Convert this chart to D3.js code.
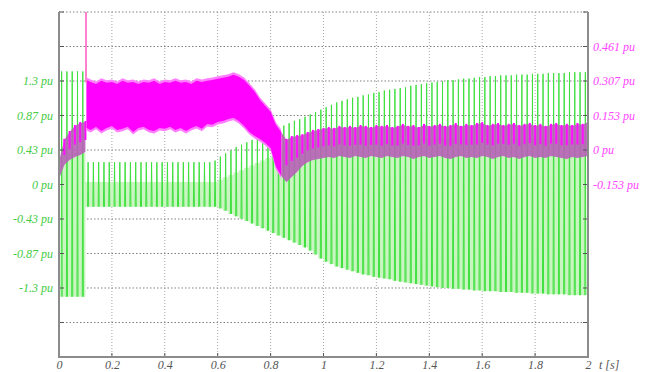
<!DOCTYPE html>
<html>
<head>
<meta charset="utf-8">
<script src="https://cdn.jsdelivr.net/npm/d3@7"></script>
<style>
  body { margin: 0; background: #fff; }
</style>
</head>
<body>
<div id="chart"></div>
<script>
// ---- data ----
// green signal, one stroke per 50 Hz cycle (left axis, pu)
var greenHi = [1.42,1.42,1.42,1.42,1.42,
  0.28,0.28,0.28,0.28,0.28,0.28,0.28,0.28,0.28,0.28,0.28,0.28,0.28,0.28,0.28,0.28,0.28,0.28,0.28,0.28,0.28,0.28,0.28,0.28,
  0.30,0.35,0.39,0.43,0.47,0.50,0.53,0.56,0.59,0.62,
  0.65,0.68,0.71,0.74,0.77,0.80,0.82,0.85,0.88,0.91,
  0.94,0.97,1.00,1.03,1.05,1.07,1.09,1.10,1.12,1.13,
  1.15,1.16,1.18,1.19,1.20,1.21,1.22,1.24,1.25,1.26,
  1.27,1.28,1.29,1.30,1.31,1.31,1.32,1.33,1.33,1.34,
  1.35,1.35,1.36,1.36,1.37,1.37,1.37,1.38,1.38,1.38,
  1.39,1.39,1.39,1.40,1.40,1.40,1.40,1.41,1.41,1.41,
  1.41];
var greenLo = [-1.41,-1.41,-1.41,-1.41,-1.41,
  -0.28,-0.28,-0.28,-0.28,-0.28,-0.28,-0.28,-0.28,-0.28,-0.28,-0.28,-0.28,-0.28,-0.28,-0.28,-0.28,-0.28,-0.28,-0.28,-0.28,-0.28,-0.28,-0.28,-0.28,-0.28,
  -0.30,-0.33,-0.37,-0.40,-0.43,-0.46,-0.49,-0.52,-0.55,-0.58,
  -0.61,-0.64,-0.67,-0.70,-0.73,-0.76,-0.79,-0.83,-0.88,-0.93,
  -0.97,-1.00,-1.03,-1.05,-1.07,-1.09,-1.11,-1.13,-1.14,-1.16,
  -1.17,-1.18,-1.19,-1.21,-1.22,-1.23,-1.24,-1.25,-1.26,-1.27,
  -1.28,-1.29,-1.30,-1.30,-1.31,-1.31,-1.32,-1.32,-1.33,-1.33,
  -1.34,-1.34,-1.34,-1.35,-1.35,-1.35,-1.36,-1.36,-1.36,-1.37,
  -1.37,-1.37,-1.38,-1.38,-1.38,-1.38,-1.39,-1.39,-1.39,-1.39];
// top of the pale green band under the strokes (left axis, pu)
var paleHi = [0.40,0.40,0.40,0.40,0.40,
  0.03,0.03,0.03,0.03,0.03,0.03,0.03,0.03,0.03,0.03,0.03,0.03,0.03,0.03,0.03,0.03,0.03,0.03,0.03,0.03,0.03,0.03,0.03,0.03,0.03,
  0.06,0.09,0.12,0.15,0.18,0.21,0.24,0.27,0.30,0.33,
  0.36,0.39,0.42,0.45,0.48,0.50,0.52,0.54,0.55,0.56,
  0.57,0.57,0.57,0.57,0.57,0.57,0.57,0.57,0.57,0.57,
  0.57,0.57,0.57,0.57,0.57,0.57,0.57,0.57,0.57,0.57,
  0.57,0.57,0.57,0.57,0.57,0.57,0.57,0.57,0.57,0.57,
  0.57,0.57,0.57,0.57,0.57,0.57,0.57,0.57,0.57,0.57,
  0.57,0.57,0.57,0.57,0.57,0.57,0.57,0.57,0.57,0.57];
var cycleT = d3.range(0.01, 2, 0.02);

// magenta signal band (right axis, pu)
var magT = [0,0.02,0.04,0.06,0.08,0.10,0.104,
  0.12,0.14,0.16,0.18,0.20,0.22,0.24,0.26,0.28,0.30,
  0.32,0.34,0.36,0.38,0.40,0.42,0.44,0.46,0.48,0.50,
  0.52,0.54,0.56,0.58,0.60,0.62,0.64,0.66,0.68,0.70,
  0.72,0.74,0.76,0.78,0.80,0.82,0.84,0.86,0.88,0.90,
  0.92,0.94,0.96,0.98,1.00,1.02,1.04,1.06,1.08,1.10,
  1.12,1.14,1.16,1.18,1.20,1.22,1.24,1.26,1.28,1.30,
  1.32,1.34,1.36,1.38,1.40,1.42,1.44,1.46,1.48,1.50,
  1.52,1.54,1.56,1.58,1.60,1.62,1.64,1.66,1.68,1.70,
  1.72,1.74,1.76,1.78,1.80,1.82,1.84,1.86,1.88,1.90,
  1.92,1.94,1.96,1.98,2.00];
var magHi = [-0.050,0.045,0.080,0.107,0.120,0.125,0.312,
  0.303,0.294,0.308,0.299,0.303,0.294,0.308,0.299,0.303,0.294,
  0.303,0.299,0.308,0.294,0.303,0.299,0.308,0.299,0.303,0.294,
  0.308,0.303,0.308,0.312,0.317,0.321,0.326,0.335,0.326,0.312,
  0.286,0.259,0.223,0.196,0.170,0.112,0.080,0.045,0.058,0.062,
  0.066,0.076,0.085,0.089,0.094,0.098,0.094,0.103,0.098,0.103,
  0.098,0.107,0.103,0.098,0.107,0.103,0.107,0.098,0.103,0.112,
  0.103,0.107,0.098,0.112,0.103,0.107,0.112,0.103,0.107,0.116,
  0.103,0.112,0.107,0.116,0.120,0.107,0.112,0.116,0.107,0.112,
  0.116,0.107,0.112,0.116,0.107,0.112,0.103,0.112,0.116,0.107,
  0.112,0.107,0.116,0.112,0.125];
var magLo = [-0.130,-0.067,-0.045,-0.031,-0.022,-0.009,0.098,
  0.089,0.103,0.085,0.098,0.107,0.089,0.094,0.103,0.080,0.098,
  0.103,0.089,0.085,0.098,0.094,0.103,0.089,0.098,0.085,0.098,
  0.107,0.094,0.116,0.112,0.125,0.129,0.138,0.143,0.129,0.107,
  0.080,0.062,0.049,0.031,0.009,-0.075,-0.115,-0.143,-0.120,-0.098,
  -0.071,-0.054,-0.045,-0.040,-0.036,-0.031,-0.036,-0.027,-0.031,-0.036,
  -0.027,-0.031,-0.036,-0.027,-0.031,-0.036,-0.027,-0.031,-0.036,-0.027,
  -0.031,-0.040,-0.031,-0.027,-0.036,-0.031,-0.027,-0.036,-0.040,-0.031,
  -0.027,-0.036,-0.031,-0.036,-0.027,-0.031,-0.040,-0.031,-0.027,-0.036,
  -0.031,-0.040,-0.031,-0.027,-0.036,-0.031,-0.036,-0.027,-0.031,-0.036,
  -0.040,-0.031,-0.036,-0.031,-0.027];
// switching spike at t = 0.102 s
var spikeT = [0.102];
var spikeHi = [0.70];
var spikeLo = [0.30];

// ticks
var xTickVals = [0,0.2,0.4,0.6,0.8,1,1.2,1.4,1.6,1.8,2];
var xTickLabels = ["0","0.2","0.4","0.6","0.8","1","1.2","1.4","1.6","1.8","2"];
var leftGridVals = [-2.1667,-1.7333,-1.3,-0.8667,-0.4333,0,0.4333,0.8667,1.3,1.7333,2.1667];
var leftTickVals = [-1.3,-0.8667,-0.4333,0,0.4333,0.8667,1.3];
var leftTickLabels = ["-1.3 pu","-0.87 pu","-0.43 pu","0 pu","0.43 pu","0.87 pu","1.3 pu"];
var rightTickVals = [-0.1535,0,0.1535,0.307,0.4605];
var rightTickLabels = ["-0.153 pu","0 pu","0.153 pu","0.307 pu","0.461 pu"];

// ---- chart ----
var width = 654, height = 372;
var plotL = 59, plotR = 588, plotT = 12, plotB = 357;
var serif = '"Times New Roman", "Liberation Serif", "DejaVu Serif", serif';

var svg = d3.select("#chart").append("svg")
  .attr("width", width).attr("height", height);

svg.append("defs").append("clipPath").attr("id", "plot")
  .append("rect").attr("x", plotL).attr("y", plotT)
  .attr("width", plotR - plotL).attr("height", plotB - plotT);

var x = d3.scaleLinear().domain([0, 2]).range([plotL, plotR]);
var yL = d3.scaleLinear().domain([-2.1667, 2.1667]).range([plotB, plotT]);
var yR = d3.scaleLinear().domain([-0.921, 0.614]).range([plotB, plotT]);

// grid
svg.append("g").selectAll("line").data(xTickVals.slice(1, -1)).enter().append("line")
  .attr("x1", d => x(d)).attr("x2", d => x(d)).attr("y1", plotT).attr("y2", plotB)
  .attr("stroke", "#a8a8a8").attr("stroke-width", 1).attr("stroke-dasharray", "1,2");
svg.append("g").selectAll("line").data(leftGridVals.slice(1)).enter().append("line")
  .attr("x1", plotL).attr("x2", plotR).attr("y1", d => yL(d)).attr("y2", d => yL(d))
  .attr("stroke", "#808080").attr("stroke-width", 1).attr("stroke-dasharray", "1.5,2");

var plot = svg.append("g").attr("clip-path", "url(#plot)");

var cycles = cycleT.map(function(t, i) {
  return {t: t, hi: greenHi[i], lo: greenLo[i], pale: paleHi[i]};
});

// pale green band
plot.append("path").datum(cycles)
  .attr("fill", "#c9f5c0")
  .attr("d", d3.area().curve(d3.curveStep)
    .x(d => x(d.t)).y0(d => yL(d.lo)).y1(d => yL(d.pale)));

// green strokes
plot.append("g").selectAll("path").data(cycles).enter().append("path")
  .attr("fill", "none").attr("stroke", "#3ee03e").attr("stroke-width", 1)
  .attr("d", d => "M" + x(d.t - 0.002) + "," + yL(d.lo) +
                  "L" + x(d.t) + "," + yL(d.hi) +
                  "L" + x(d.t + 0.002) + "," + yL(d.lo));

// magenta
var mag = magT.map(function(t, i) { return {t: t, hi: magHi[i], lo: magLo[i]}; });
var early = mag.filter(d => d.t <= 0.1);
var dense = mag.filter(d => d.t >= 0.104 && d.t <= 0.84);
var late = mag.filter(d => d.t >= 0.84);

var band = function(pad) {
  return d3.area().x(d => x(d.t)).y0(d => yR(d.lo) + pad).y1(d => yR(d.hi) - pad);
};

[early, late].forEach(function(seg) {
  plot.append("path").datum(seg).attr("fill", "#b860b8").attr("opacity", 0.9).attr("d", band(0));
  plot.append("g").selectAll("line").data(seg.slice(1)).enter().append("line")
    .attr("x1", d => x(d.t)).attr("x2", d => x(d.t))
    .attr("y1", d => yR(d.hi) - 1).attr("y2", d => yR(d.hi) + (yR(d.lo) - yR(d.hi)) * 0.6)
    .attr("stroke", "#ff10ff").attr("stroke-width", 2);
});

plot.append("path").datum(dense).attr("fill", "#ff80ff").attr("d", band(2.5));
plot.append("path").datum(dense).attr("fill", "#ff00ff").attr("d", band(0));

// spike
plot.append("g").selectAll("line").data(spikeT).enter().append("line")
  .attr("x1", d => x(d)).attr("x2", d => x(d))
  .attr("y1", (d, i) => yR(spikeHi[i])).attr("y2", (d, i) => yR(spikeLo[i]))
  .attr("stroke", "#ff80cc").attr("stroke-width", 2);

// inner ticks
svg.append("g").selectAll("line").data(leftGridVals).enter().append("line")
  .attr("x1", plotL).attr("x2", plotL + 5).attr("y1", d => yL(d)).attr("y2", d => yL(d))
  .attr("stroke", "#555");
svg.append("g").selectAll("line").data(leftGridVals).enter().append("line")
  .attr("x1", plotR - 5).attr("x2", plotR).attr("y1", d => yL(d)).attr("y2", d => yL(d))
  .attr("stroke", "#555");
svg.append("g").selectAll("line").data(xTickVals).enter().append("line")
  .attr("x1", d => x(d)).attr("x2", d => x(d)).attr("y1", plotB - 4).attr("y2", plotB)
  .attr("stroke", "#555");

// frame
svg.append("path")
  .attr("d", "M" + plotL + "," + plotT + "V" + plotB + "H" + plotR + "V" + plotT)
  .attr("fill", "none").attr("stroke", "#8c8c8c").attr("stroke-width", 2);

// axes labels
function styleAxis(g, color) {
  g.attr("font-family", serif).attr("font-size", 12).attr("font-style", "italic");
  g.select(".domain").remove();
  g.selectAll("text").attr("fill", color);
}

var gl = svg.append("g").attr("transform", "translate(" + plotL + ",0)")
  .call(d3.axisLeft(yL).tickValues(leftTickVals).tickSize(0).tickPadding(6)
    .tickFormat((d, i) => leftTickLabels[i]));
styleAxis(gl, "#44cc44");

var gr = svg.append("g").attr("transform", "translate(" + plotR + ",0)")
  .call(d3.axisRight(yR).tickValues(rightTickVals).tickSize(0).tickPadding(5)
    .tickFormat((d, i) => rightTickLabels[i]));
styleAxis(gr, "#ff44ff");

var gb = svg.append("g").attr("transform", "translate(0," + plotB + ")")
  .call(d3.axisBottom(x).tickValues(xTickVals).tickSize(0).tickPadding(3)
    .tickFormat((d, i) => xTickLabels[i]));
styleAxis(gb, "#555");

svg.append("text").attr("x", 599).attr("y", 369).attr("fill", "#555")
  .attr("font-family", serif).attr("font-size", 12).attr("font-style", "italic")
  .text("t [s]");
</script>
</body>
</html>
